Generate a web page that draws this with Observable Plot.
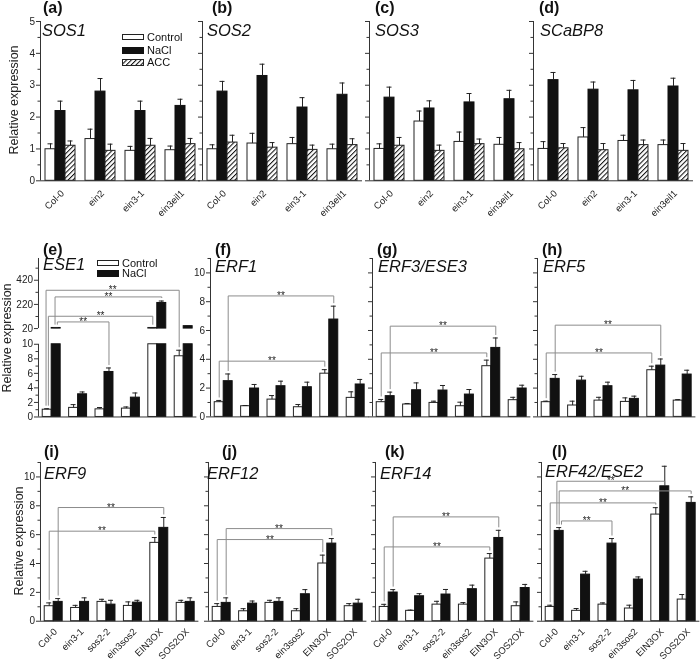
<!DOCTYPE html>
<html><head><meta charset="utf-8">
<script src="https://cdn.jsdelivr.net/npm/d3@7"></script>
<script src="https://cdn.jsdelivr.net/npm/@observablehq/plot@0.6"></script>
<style>
html,body{margin:0;padding:0;background:#fff;overflow:hidden;}
#fig{position:relative;width:700px;height:665px;font-family:Arial,"Liberation Sans",Helvetica,sans-serif;color:#111;will-change:transform;}
.abs{position:absolute;white-space:nowrap;line-height:1;}
.plab{font-weight:bold;font-size:16px;}
.gene{font-style:italic;font-size:16.5px;}
.ytitle{font-size:12.5px;transform:translate(-50%,-50%) rotate(-90deg);color:#222;}
.leg{font-size:11px;display:flex;align-items:center;height:12px;color:#111;}
.leg svg{margin-right:2px;}
</style></head><body>
<svg width="0" height="0" style="position:absolute"><defs>
<pattern id="hatch" patternUnits="userSpaceOnUse" width="3.4" height="3.4" patternTransform="rotate(45)">
<rect width="3.4" height="3.4" fill="#fff"/><line x1="0" y1="0" x2="0" y2="3.4" stroke="#111" stroke-width="2.1"/></pattern></defs></svg>
<div id="fig"></div>
<script>
// ---------------- DATA ----------------
const ROW1_GROUPS = ["Col-0", "ein2", "ein3-1", "ein3eil1"];
const ROW23_GROUPS = ["Col-0", "ein3-1", "sos2-2", "ein3sos2", "EIN3OX", "SOS2OX"];
const SERIES3 = ["Control", "NaCl", "ACC"];
const SERIES2 = ["Control", "NaCl"];

const SOS1_mean = {Control:[0.99,1.31,0.94,0.96], NaCl:[2.19,2.80,2.19,2.35], ACC:[1.10,0.94,1.10,1.15]};
const SOS1_err  = {Control:[0.17,0.31,0.14,0.13], NaCl:[0.31,0.41,0.31,0.21], ACC:[0.15,0.21,0.23,0.18]};
const SOS2_mean = {Control:[0.99,1.17,1.15,0.99], NaCl:[2.80,3.29,2.30,2.70], ACC:[1.20,1.04,0.97,1.12]};
const SOS2_err  = {Control:[0.14,0.32,0.21,0.16], NaCl:[0.32,0.37,0.31,0.37], ACC:[0.23,0.16,0.15,0.20]};
const SOS3_mean = {Control:[1.00,1.86,1.22,1.13], NaCl:[2.61,2.27,2.46,2.56], ACC:[1.10,0.94,1.15,0.99]};
const SOS3_err  = {Control:[0.16,0.33,0.31,0.23], NaCl:[0.33,0.24,0.28,0.28], ACC:[0.26,0.18,0.16,0.21]};
const SCaBP8_mean = {Control:[1.00,1.36,1.25,1.12], NaCl:[3.16,2.86,2.84,2.96], ACC:[1.02,0.96,1.12,0.94]};
const SCaBP8_err  = {Control:[0.23,0.31,0.18,0.16], NaCl:[0.24,0.24,0.31,0.26], ACC:[0.15,0.21,0.16,0.23]};

const ESE1_mean = {Control:[1.00,1.25,1.05,1.15,25,8.35], NaCl:[25,3.12,6.19,2.66,232,40]};
const ESE1_err  = {Control:[0.14,0.45,0.25,0.23,2,0.83], NaCl:[3,0.32,0.55,0.64,16,5]};
const ESE1_brackets = [["Control",0,"Control",5,337],["NaCl",0,"NaCl",4,282],["Control",0,"Control",4,122],["NaCl",0,"NaCl",2,75]];

const ERF1_mean = {Control:[1.02,0.74,1.20,0.67,3.00,1.32], NaCl:[2.48,1.97,2.13,2.06,6.76,2.25]};
const ERF1_err  = {Control:[0.12,0.05,0.28,0.19,0.28,0.42], NaCl:[0.50,0.28,0.35,0.35,0.93,0.35]};
const ERF1_brackets = [["Control",0,"Control",4,3.87],["NaCl",0,"NaCl",4,8.4]];

const ERF3_mean = {Control:[1.02,0.86,0.97,0.74,3.52,1.16], NaCl:[1.44,1.85,1.83,1.55,4.79,1.97]};
const ERF3_err  = {Control:[0.19,0.07,0.12,0.28,0.42,0.20], NaCl:[0.28,0.51,0.35,0.35,0.69,0.23]};
const ERF3_brackets = [["Control",0,"Control",4,4.44],["NaCl",0,"NaCl",4,6.3]];

const ERF5_mean = {Control:[1.02,0.79,1.13,1.04,3.24,1.13], NaCl:[2.64,2.52,2.13,1.25,3.56,2.94]};
const ERF5_err  = {Control:[0.07,0.30,0.23,0.28,0.28,0.07], NaCl:[0.30,0.30,0.28,0.19,0.46,0.30]};
const ERF5_brackets = [["Control",0,"Control",4,4.44],["NaCl",0,"NaCl",4,6.37]];

const ERF9_mean = {Control:[1.04,0.92,1.34,1.06,5.43,1.27], NaCl:[1.34,1.34,1.15,1.29,6.47,1.34]};
const ERF9_err  = {Control:[0.23,0.18,0.18,0.28,0.37,0.18], NaCl:[0.23,0.28,0.30,0.16,0.72,0.28]};
const ERF9_brackets = [["Control",0,"Control",4,6.24],["NaCl",0,"NaCl",4,7.88]];

const ERF12_mean = {Control:[0.99,0.69,1.27,0.69,4.00,1.04], NaCl:[1.27,1.22,1.34,1.87,5.38,1.22]};
const ERF12_err  = {Control:[0.23,0.18,0.18,0.18,0.58,0.18], NaCl:[0.35,0.18,0.28,0.32,0.35,0.30]};
const ERF12_brackets = [["Control",0,"Control",4,5.66],["NaCl",0,"NaCl",4,6.42]];

const ERF14_mean = {Control:[0.99,0.72,1.15,1.15,4.34,1.04], NaCl:[1.99,1.73,1.85,2.22,5.77,2.30]};
const ERF14_err  = {Control:[0.18,0.05,0.23,0.14,0.35,0.30], NaCl:[0.20,0.18,0.35,0.28,0.53,0.25]};
const ERF14_brackets = [["Control",0,"Control",4,5.15],["NaCl",0,"NaCl",4,7.23]];

const ERF42_mean = {Control:[0.99,0.72,1.15,0.88,7.39,1.50], NaCl:[6.26,3.23,5.38,2.89,9.35,8.20]};
const ERF42_err  = {Control:[0.12,0.16,0.12,0.23,0.48,0.35], NaCl:[0.23,0.23,0.35,0.18,1.39,0.42]};
const ERF42_brackets = [["NaCl",0,"NaCl",4,9.7],["NaCl",0,"NaCl",5,9.03],["Control",0,"Control",4,8.2],["NaCl",0,"NaCl",2,6.95]];

const ROW1_TICKS = [0,1,2,3,4,5], ROW1_MINOR = [0.5,1.5,2.5,3.5,4.5];
const ROW23_TICKS = [0,2,4,6,8,10], ROW23_MINOR = [1,3,5,7,9,11];
const BROKEN_TICKS = [0,2,4,6,8,10,20,220,420], BROKEN_MINOR = [1,3,5,7,9,120,320,520];

// ---------------- STYLE / LAYOUT ----------------
const FONT = "Arial, 'Liberation Sans', Helvetica, sans-serif";
const FILL = {Control:"#ffffff", NaCl:"#111111", ACC:"url(#hatch)"};
const STROKE = {Control:"#222222", NaCl:"#111111", ACC:"#222222"};
const BREAK_LO = 10, BREAK_HI = 20, BROKEN_MAX = 600, GAP_U = 2.16, UPPER_K = 0.01662;
function brokenT(v){ return v <= BREAK_LO ? v : v < BREAK_HI ? BREAK_LO : BREAK_LO + GAP_U + (v - BREAK_HI) * UPPER_K; }

const fig = document.getElementById("fig");
function place(el, left, top){ const d=document.createElement("div"); d.className="abs"; d.style.left=left+"px"; d.style.top=top+"px"; d.appendChild(el); fig.appendChild(d); return d; }
function textDiv(txt, cls, left, top){ const s=document.createElement("span"); s.textContent=txt; const d=place(s,left,top); d.classList.add(...cls.split(" ")); return d; }

const ML=40, MR=2, MT=14, MB=50;

function makePanel(c){
  const n = c.groups.length;
  const bw = c.barW, pad = (1 - c.series.length*bw)/2, cw = c.capW;
  const T = c.broken ? brokenT : (v => v);
  const ytop = c.broken ? T(BROKEN_MAX) : c.ymax;
  const h = c.yBottom - c.yTop;
  const unitPx = h / ytop;
  const gapU = 3 / unitPx;
  const bars = [];
  c.series.forEach((s,k) => c.mean[s].forEach((v,i) => {
    const x1 = i + pad + k*bw;
    bars.push({s, i, k, v, e: c.err[s][i], x1, x2: x1+bw, cx: x1+bw/2});
  }));
  const pieces = [];
  for (const b of bars){
    if (c.broken){
      pieces.push({...b, y1: 0, y2: Math.min(b.v, BREAK_LO)});
      if (b.v > BREAK_HI) pieces.push({...b, y1: T(BREAK_HI), y2: T(b.v)});
    } else pieces.push({...b, y1: 0, y2: b.v});
  }
  const errs = bars.map(b => ({...b, y1: T(b.v), y2: T(b.v + b.e)}));
  const find = (s,i) => bars.find(b => b.s===s && b.i===i);
  const brs = c.brackets || [];
  const shared = {};
  brs.forEach((br,j) => { for (const [s,i] of [[br[0],br[1]],[br[2],br[3]]]) (shared[s+"|"+i] ??= []).push(j); });
  for (const k in shared) shared[k].sort((a,b) => brs[b][4]-brs[a][4]);
  const pxPerX = c.w / n;
  const endX = (s,i,j) => { const list = shared[s+"|"+i]; const r = list.indexOf(j); return find(s,i).cx + (r - (list.length-1)/2)*2.3/pxPerX; };
  const endY = (s,i,L) => { const b = find(s,i); let y = T(b.v+b.e) + gapU; if (y > L) y = T(b.v) + gapU*0.4; return y; };
  const segs = [], stars = [];
  brs.forEach((br,j) => {
    const [sa, ia, sb, ib, lvl] = br; const L = T(lvl);
    const xa = endX(sa,ia,j), xb = endX(sb,ib,j);
    segs.push({x1:xa, x2:xb, y1:L, y2:L});
    segs.push({x1:xa, x2:xa, y1:endY(sa,ia,L), y2:L});
    segs.push({x1:xb, x2:xb, y1:endY(sb,ib,L), y2:L});
    stars.push({x:(xa+xb)/2, y:L});
  });
  const majT = c.majors.map(T), minT = c.minors.map(T);
  const lab = new Map(c.majors.map(v => [T(v), String(v)]));
  const axisSegs = c.broken ? [[0, BREAK_LO], [T(BREAK_HI), ytop]] : [[0, ytop]];
  const marks = [];
  for (const s of c.series) marks.push(Plot.rect(pieces.filter(p => p.s===s), {x1:"x1", x2:"x2", y1:"y1", y2:"y2", fill: FILL[s], stroke: STROKE[s], strokeWidth: 1}));
  marks.push(Plot.ruleX(errs, {x:"cx", y1:"y1", y2:"y2", stroke:"#222", strokeWidth:1}));
  marks.push(Plot.ruleY(errs, {x1: d => d.cx-cw, x2: d => d.cx+cw, y:"y2", stroke:"#222", strokeWidth:1}));
  marks.push(Plot.link(segs, {x1:"x1", y1:"y1", x2:"x2", y2:"y2", stroke:"#8c8c8c", strokeWidth:1}));
  marks.push(Plot.text(stars, {x:"x", y:"y", text: () => "**", lineAnchor:"bottom", dy: 3, fontSize: 10, fill:"#222"}));
  marks.push(Plot.ruleY([0], {stroke:"#333", strokeWidth:1}));
  marks.push(Plot.ruleX(axisSegs, {x: () => 0, y1: d => d[0], y2: d => d[1], stroke:"#333", strokeWidth:1}));
  marks.push(Plot.axisY({ticks: majT, tickSize: 4, tickPadding: 1.5, tickFormat: c.yLabels ? (t => lab.get(t)) : (() => ""), label: null, stroke:"#333", fontSize: 10}));
  marks.push(Plot.axisY({ticks: minT, tickSize: 2.5, tickFormat: () => "", label: null, stroke:"#333"}));
  if (c.xLabels) marks.push(Plot.text(c.groups, {x: (d,i) => i+0.5, y: () => 0, text: d => d, rotate: -45, textAnchor: "end", dx: 2, dy: c.xdy, fontSize: 9.5, fill:"#222"}));
  const svg = Plot.plot({
    width: ML + c.w + MR, height: MT + h + MB,
    marginLeft: ML, marginRight: MR, marginTop: MT, marginBottom: MB,
    x: {type:"linear", domain:[0, n], axis: null},
    y: {type:"linear", domain:[0, ytop]},
    style: {background:"transparent", overflow:"visible", maxWidth:"none", fontFamily: FONT, fontSize:"10px", color:"#222"},
    marks
  });
  place(svg, c.x0 - ML, c.yTop - MT);
}

const R1 = {groups: ROW1_GROUPS, series: SERIES3, barW: 0.25, capW: 0.0625, yTop: 20.7, yBottom: 180, ymax: 5, majors: ROW1_TICKS, minors: ROW1_MINOR, xLabels: true, xdy: 11, w: 160};
const R2 = {groups: ROW23_GROUPS, series: SERIES2, barW: 0.34, capW: 0.095, yTop: 416 - 11*14.4, yBottom: 416, ymax: 11, majors: ROW23_TICKS, minors: ROW23_MINOR, xLabels: false, w: 158.4};
const R3 = {...R2, yTop: 621 - 11*14.43, yBottom: 621, xLabels: true, xdy: 9};

const panels = [
  {...R1, x0: 40, mean: SOS1_mean, err: SOS1_err, yLabels: true},
  {...R1, x0: 202, mean: SOS2_mean, err: SOS2_err},
  {...R1, x0: 369, mean: SOS3_mean, err: SOS3_err},
  {...R1, x0: 533, mean: SCaBP8_mean, err: SCaBP8_err},
  {...R2, x0: 37.8, broken: true, yTop: 416 - brokenT(BROKEN_MAX)*7.27, majors: BROKEN_TICKS, minors: BROKEN_MINOR, mean: ESE1_mean, err: ESE1_err, brackets: ESE1_brackets, yLabels: true},
  {...R2, x0: 210, mean: ERF1_mean, err: ERF1_err, brackets: ERF1_brackets, yLabels: true},
  {...R2, x0: 372.3, mean: ERF3_mean, err: ERF3_err, brackets: ERF3_brackets},
  {...R2, x0: 536.7, mean: ERF5_mean, err: ERF5_err, brackets: ERF5_brackets},
  {...R3, x0: 40, mean: ERF9_mean, err: ERF9_err, brackets: ERF9_brackets, yLabels: true},
  {...R3, x0: 208, mean: ERF12_mean, err: ERF12_err, brackets: ERF12_brackets},
  {...R3, x0: 375, mean: ERF14_mean, err: ERF14_err, brackets: ERF14_brackets},
  {...R3, x0: 540.7, mean: ERF42_mean, err: ERF42_err, brackets: ERF42_brackets}
];
panels.forEach(makePanel);

// ---------------- TEXT ----------------
const LABELS = [["(a)",43,0],["(b)",212,0],["(c)",375,0],["(d)",539,0],
  ["(e)",43,242],["(f)",215,242],["(g)",377,242],["(h)",542,242],
  ["(i)",44,444],["(j)",222,444],["(k)",385,444],["(l)",552,444]];
LABELS.forEach(([t,x,y]) => textDiv(t, "plab", x, y));
const GENES = [["SOS1",42,22],["SOS2",207,22],["SOS3",375,22],["SCaBP8",540,22],
  ["ESE1",43,256],["ERF1",215,258],["ERF3/ESE3",378,258],["ERF5",543,258],
  ["ERF9",44,465],["ERF12",207,465],["ERF14",380,465],["ERF42/ESE2",545,463]];
GENES.forEach(([t,x,y]) => textDiv(t, "gene", x, y));
[[14,100],[7,338],[19,541]].forEach(([x,y]) => textDiv("Relative expression", "ytitle", x, y));

function legendRow(s, x, yc){
  const d = document.createElement("div"); d.className = "leg";
  d.innerHTML = `<svg width="23" height="7"><rect x="0.5" y="0.5" width="21" height="${s==="Control"?5:6}" fill="${FILL[s]}" stroke="${STROKE[s]}"/></svg><span>${s}</span>`;
  place(d, x, yc - 6);
}
SERIES3.forEach((s,k) => legendRow(s, 122, [37, 50.5, 62.5][k]));
SERIES2.forEach((s,k) => legendRow(s, 97, [263, 273][k]));
</script>
</body></html>
